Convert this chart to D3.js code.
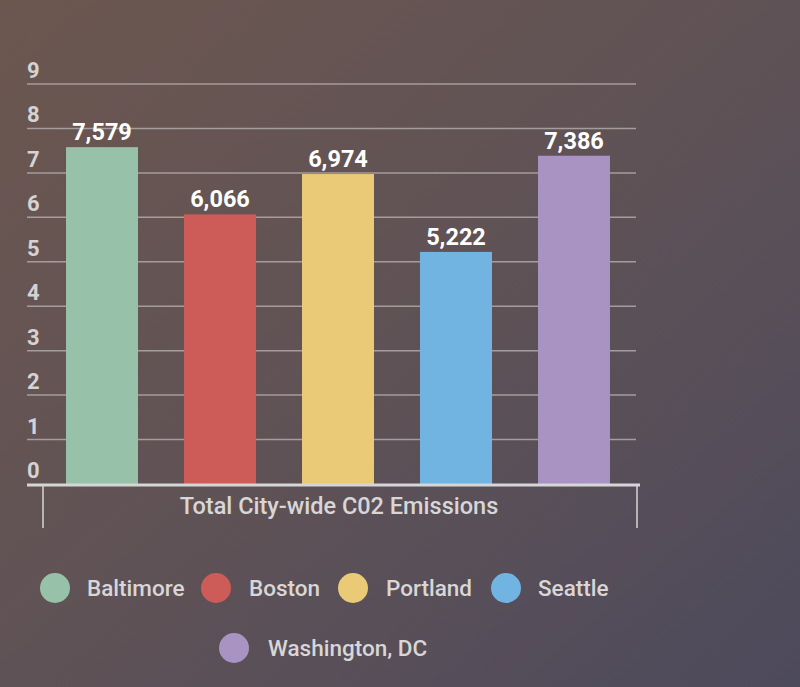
<!DOCTYPE html>
<html><head><meta charset="utf-8">
<script src="https://cdn.jsdelivr.net/npm/d3@7"></script>
<style>html,body{margin:0;padding:0;overflow:hidden;}svg{display:block;font-family:Roboto,"Open Sans",sans-serif;}</style>
</head><body><div id="chart"></div>
<script>
const cities = ["Baltimore","Boston","Portland","Seattle","Washington, DC"];
const emissions = [7579,6066,6974,5222,7386];
const colors = ["#97c2a9","#cd5c59","#eaca77","#71b4e1","#a893c3"];
const tickValues = [0,1000,2000,3000,4000,5000,6000,7000,8000,9000];
const tickLabels = ["0","1","2","3","4","5","6","7","8","9"];
const categoryLabel = "Total City-wide C02 Emissions";

const W = 800, H = 687;
const svg = d3.select("#chart").append("svg").attr("width",W).attr("height",H);
const defs = svg.append("defs");
const g = defs.append("linearGradient").attr("id","bg").attr("x1","0").attr("y1","0").attr("x2","1").attr("y2","1");
g.append("stop").attr("offset","0").attr("stop-color","#6c574f");
g.append("stop").attr("offset","0.5").attr("stop-color","#5f5256");
g.append("stop").attr("offset","1").attr("stop-color","#4d4a5c");
svg.append("rect").attr("width",W).attr("height",H).attr("fill","url(#bg)");

const x = d3.scaleBand().domain(cities).range([43,633]).paddingInner(0.39).paddingOuter(0.195);
const y = d3.scaleLinear().domain([0,9000]).range([484,84]);

// gridlines
svg.append("g").selectAll("line").data(tickValues.slice(1)).join("line")
  .attr("x1",27).attr("x2",636).attr("y1",d=>y(d)).attr("y2",d=>y(d))
  .attr("stroke","#a59d9b").attr("stroke-width",1.5);

// tick labels
svg.append("g").selectAll("text").data(tickValues).join("text")
  .attr("x",27).attr("y",d=>y(d)-6)
  .attr("fill","#d4d2d2").attr("font-size",22).attr("font-weight",700)
  .text((d,i)=>tickLabels[i]);

// bars
svg.append("g").selectAll("rect").data(emissions).join("rect")
  .attr("x",(d,i)=>x(cities[i])).attr("width",x.bandwidth())
  .attr("y",d=>y(d)).attr("height",d=>y(0)-y(d))
  .attr("fill",(d,i)=>colors[i]);

// value labels
svg.append("g").selectAll("text").data(emissions).join("text")
  .attr("x",(d,i)=>x(cities[i])+x.bandwidth()/2).attr("y",d=>y(d)-7)
  .attr("text-anchor","middle").attr("fill","#ffffff").attr("font-size",23.5).attr("font-weight",700)
  .text(d=>d3.format(",")(d));

// baseline axis
svg.append("line").attr("x1",27).attr("x2",640).attr("y1",485).attr("y2",485)
  .attr("stroke","#d6d6d6").attr("stroke-width",3);
[43,637].forEach(px=>{
  svg.append("line").attr("x1",px).attr("x2",px).attr("y1",486).attr("y2",528)
    .attr("stroke","#d6d6d6").attr("stroke-width",1.5);
});
svg.append("text").attr("x",339).attr("y",514).attr("text-anchor","middle")
  .attr("fill","#d8d6d6").attr("font-size",23.5).attr("font-weight",500).text(categoryLabel);

// legend
const legendPos = [[55,588,87],[216,588,249],[353,588,386],[506,588,538],[234,648,268]];
const leg = svg.append("g").selectAll("g").data(cities).join("g");
leg.append("circle").attr("cx",(d,i)=>legendPos[i][0]).attr("cy",(d,i)=>legendPos[i][1]).attr("r",15)
  .attr("fill",(d,i)=>colors[i]);
leg.append("text").attr("x",(d,i)=>legendPos[i][2]).attr("y",(d,i)=>legendPos[i][1]+8)
  .attr("fill","#d8d6d6").attr("font-size",22.5).attr("font-weight",500).text(d=>d);
</script></body></html>
